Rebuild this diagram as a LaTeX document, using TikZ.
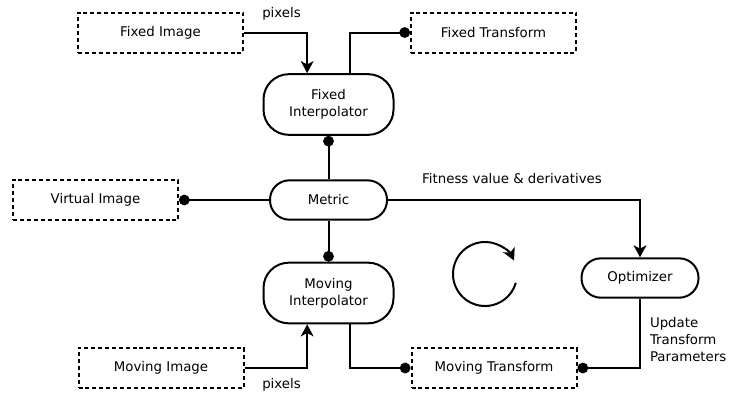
\documentclass[tikz,border=0pt]{standalone}
\usepackage{fontspec}
\setmainfont{DejaVu Sans}
\usetikzlibrary{arrows.meta}
\begin{document}
\begin{tikzpicture}[x=0.75pt,y=-0.75pt,
  font=\fontsize{10pt}{12.75pt}\selectfont,
  line width=1.5pt,
  dbox/.style={draw, dash pattern=on 3pt off 2.2pt, line width=1.5pt, minimum width=123.75pt, minimum height=30pt, inner sep=0pt},
  interp/.style={draw, rounded corners=19pt, minimum width=97.5pt, minimum height=45.5pt, align=center, inner sep=0pt},
  pill/.style={draw, rounded corners=14.5pt, minimum width=87.75pt, minimum height=29.5pt, inner sep=0pt},
  arr/.style={-{Stealth[length=9pt,width=9.5pt,inset=2.5pt]}},
  dot/.style={-{Circle[length=8pt]}},
  lbl/.style={inner sep=0pt}
]
\useasboundingbox (0,0) rectangle (731,408);

\node[dbox] (fimg) at (160.5,32.5) {Fixed Image};
\node[dbox] (ftr) at (493.5,32.5) {Fixed Transform};
\node[dbox] (vimg) at (95.5,200) {Virtual Image};
\node[dbox] (mimg) at (161,368) {Moving Image};
\node[dbox] (mtr) at (494,368) {Moving Transform};

\node[interp] (fint) at (328.5,104.5) {Fixed\\Interpolator};
\node[interp] (mint) at (328.5,293) {Moving\\Interpolator};
\node[pill] (metric) at (328.5,200) {Metric};
\node[pill] (opt) at (640,278) {Optimizer};

\node[lbl] (pix1) at (281.5,14) {pixels};
\node[lbl] (pix2) at (281.5,385) {pixels};
\node[lbl] (fit) at (512,179) {Fitness value \& derivatives};
\node[lbl, anchor=west, align=left] (upd) at (649,340) {Update\\Transform\\Parameters};

\draw[arr] (fimg.east) -| ([xshift=-16pt]fint.north);
\draw[dot] ([xshift=16pt]fint.north) |- (ftr.west);
\draw[dot] (metric.north) -- (fint.south);
\draw[dot] (metric.west) -- (vimg.east);
\draw[dot] (metric.south) -- (mint.north);
\draw[arr] (metric.east) -| (opt.north);
\draw[dot] (opt.south) |- (mtr.east);
\draw[arr] (mimg.east) -| ([xshift=-16pt]mint.south);
\draw[dot] ([xshift=16pt]mint.south) |- (mtr.west);

\coordinate (cyc) at (485,274);
\draw[arr] ([shift={(-16:24pt)}]cyc) arc[start angle=-16, end angle=-335, radius=24pt];
\end{tikzpicture}
\end{document}
